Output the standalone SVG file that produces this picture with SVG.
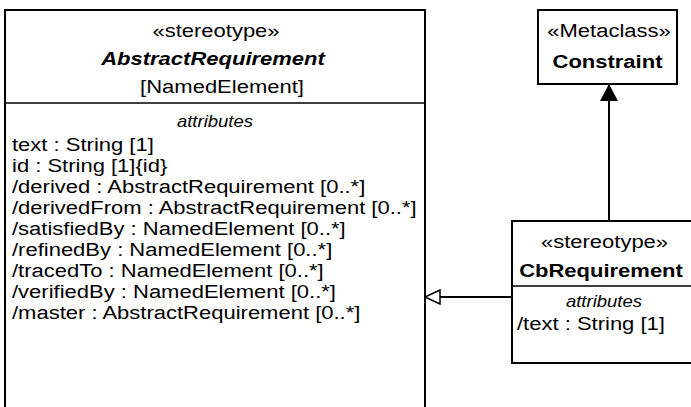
<svg xmlns="http://www.w3.org/2000/svg" width="691" height="407" viewBox="0 0 691 407">
<style>
.box{fill:#fff;stroke:#000;stroke-width:2}
.sep{stroke:#000;stroke-width:1.5}
text{font-family:"Liberation Sans",Arial,sans-serif;font-size:19px;fill:#000}
.c{text-anchor:middle}
.b{font-weight:bold}
.i{font-style:italic}
.s{font-size:16px;font-style:italic}
.line{stroke:#000;stroke-width:2;fill:none}
</style>
<defs>
<marker id="filled" markerWidth="20" markerHeight="20" refX="17" refY="9" orient="auto" markerUnits="userSpaceOnUse">
<path d="M0,0 L17,9 L0,18 Z" fill="#000"/>
</marker>
<marker id="hollow" markerWidth="20" markerHeight="20" refX="16" refY="8" orient="auto" markerUnits="userSpaceOnUse">
<path d="M1,1 L16,8 L1,15 Z" fill="#fff" stroke="#000" stroke-width="1.5"/>
</marker>
</defs>
<g id="connectors">
<line class="line" x1="609" y1="221" x2="609" y2="84" marker-end="url(#filled)"/>
<line class="line" x1="512" y1="297" x2="425" y2="297" marker-end="url(#hollow)"/>
</g>
<g id="AbstractRequirement">
<rect class="box" x="5" y="10" width="420" height="410"/>
<line class="sep" x1="5" y1="103" x2="425" y2="103"/>
<text class="c" transform="translate(216,0) scale(1.158,1)" y="37">«stereotype»</text>
<text class="c b i" transform="translate(213,0) scale(1.158,1)" y="65">AbstractRequirement</text>
<text class="c" transform="translate(222,0) scale(1.158,1)" y="93">[NamedElement]</text>
<text class="c s" transform="translate(215,0) scale(1.158,1)" y="127">attributes</text>
<g transform="translate(12,0) scale(1.158,1)">
<text x="0" y="151">text : String [1]</text>
<text x="0" y="172">id : String [1]{id}</text>
<text x="0" y="193">/derived : AbstractRequirement [0..*]</text>
<text x="0" y="214">/derivedFrom : AbstractRequirement [0..*]</text>
<text x="0" y="235">/satisfiedBy : NamedElement [0..*]</text>
<text x="0" y="256">/refinedBy : NamedElement [0..*]</text>
<text x="0" y="277">/tracedTo : NamedElement [0..*]</text>
<text x="0" y="298">/verifiedBy : NamedElement [0..*]</text>
<text x="0" y="319">/master : AbstractRequirement [0..*]</text>
</g>
</g>
<g id="Constraint">
<rect class="box" x="538" y="10" width="139" height="74"/>
<text class="c" transform="translate(609,0) scale(1.158,1)" y="37">«Metaclass»</text>
<text class="c b" transform="translate(607.5,0) scale(1.158,1)" y="68">Constraint</text>
</g>
<g id="CbRequirement">
<rect class="box" x="512" y="221" width="182" height="142"/>
<line class="sep" x1="512" y1="286" x2="694" y2="286"/>
<text class="c" transform="translate(604.5,0) scale(1.158,1)" y="248">«stereotype»</text>
<text class="c b" transform="translate(601,0) scale(1.158,1)" y="277">CbRequirement</text>
<text class="c s" transform="translate(604,0) scale(1.158,1)" y="307">attributes</text>
<text transform="translate(517,0) scale(1.158,1)" x="0" y="330">/text : String [1]</text>
</g>
</svg>
